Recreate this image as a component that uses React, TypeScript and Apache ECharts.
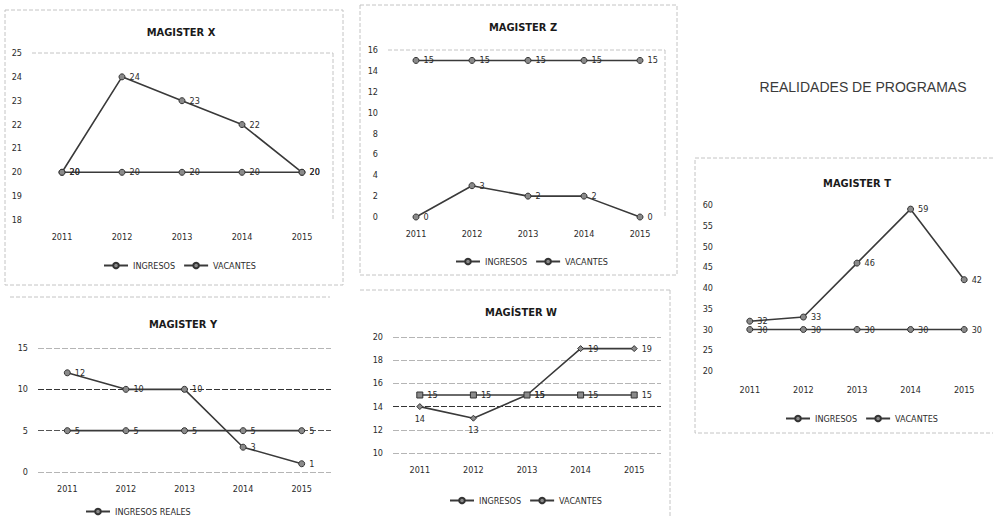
import React, { useEffect, useRef } from "react";
import * as echarts from "echarts";

const years = ["2011", "2012", "2013", "2014", "2015"];

const xIngresos = [20, 24, 23, 22, 20];
const xVacantes = [20, 20, 20, 20, 20];
const zIngresos = [0, 3, 2, 2, 0];
const zVacantes = [15, 15, 15, 15, 15];
const yIngresosReales = [12, 10, 10, 3, 1];
const yVacantes = [5, 5, 5, 5, 5];
const wIngresos = [14, 13, 15, 19, 19];
const wVacantes = [15, 15, 15, 15, 15];
const tIngresos = [32, 33, 46, 59, 42];
const tVacantes = [30, 30, 30, 30, 30];

const panelTitles = ["MAGISTER X", "MAGISTER Z", "MAGISTER Y", "MAGÍSTER W", "MAGISTER T"];
const pageTitle = "REALIDADES DE PROGRAMAS";

const NARROW = "'Liberation Sans Narrow', 'DejaVu Sans Condensed', 'Open Sans', sans-serif";
const INK = "#2b2b2b";
const FAINT = "#b5b5b5";

export default function App() {
  const ref = useRef<HTMLDivElement>(null);

  useEffect(() => {
    if (!ref.current) return;
    const chart = echarts.init(ref.current, null, { renderer: "svg" });

    const grids = [
      { left: 32, top: 53, width: 300, height: 167 },
      { left: 388, top: 50, width: 280, height: 167 },
      { left: 38, top: 348, width: 293, height: 124 },
      { left: 393, top: 337, width: 268, height: 116 },
      { left: 723, top: 205, width: 268, height: 166 },
    ];

    const axisLabel = { fontSize: 9, color: INK, fontFamily: NARROW };

    const xAxes = grids.map((_, i) => ({
      type: "category",
      gridIndex: i,
      data: years,
      boundaryGap: true,
      axisLine: { show: false },
      axisTick: { show: false },
      axisLabel: { ...axisLabel, margin: i === 4 ? 14 : 12 },
    }));

    const yRanges = [
      { min: 18, max: 25, interval: 1 },
      { min: 0, max: 16, interval: 2 },
      { min: 0, max: 15, interval: 5 },
      { min: 10, max: 20, interval: 2 },
      { min: 20, max: 60, interval: 5 },
    ];
    const splitColors: (string[] | null)[] = [
      null,
      null,
      [FAINT, "#555", "#333", FAINT],
      [FAINT, FAINT, "#333", FAINT, FAINT, FAINT],
      null,
    ];
    const yAxes = yRanges.map((r, i) => ({
      type: "value",
      gridIndex: i,
      ...r,
      axisLine: { show: false },
      axisTick: { show: false },
      axisLabel: { ...axisLabel, margin: 10 },
      splitLine: splitColors[i]
        ? { show: true, lineStyle: { color: splitColors[i], type: [6, 2], width: 1 } }
        : { show: false },
    }));

    const lbl = (pos: any = "right") => ({
      show: true,
      position: pos,
      distance: 4,
      fontSize: 9,
      color: INK,
      fontFamily: NARROW,
    });

    const mk = (
      name: string,
      idx: number,
      data: number[],
      symbol = "circle",
      labelPositions?: string[]
    ) => ({
      type: "line",
      name,
      xAxisIndex: idx,
      yAxisIndex: idx,
      data: labelPositions
        ? data.map((v, k) => ({ value: v, label: { position: labelPositions[k] } }))
        : data,
      symbol,
      symbolSize: 6,
      lineStyle: { color: "#3a3a3a", width: 1.6 },
      itemStyle: { color: "#8a8a8a", borderColor: "#333", borderWidth: 1 },
      label: lbl(),
    });

    const series = [
      mk("INGRESOS", 0, xIngresos),
      mk("VACANTES", 0, xVacantes),
      mk("INGRESOS", 1, zIngresos),
      mk("VACANTES", 1, zVacantes),
      mk("INGRESOS REALES", 2, yIngresosReales),
      mk("VACANTES", 2, yVacantes),
      mk("INGRESOS", 3, wIngresos, "diamond", ["bottom", "bottom", "right", "right", "right"]),
      mk("VACANTES", 3, wVacantes, "rect"),
      mk("INGRESOS", 4, tIngresos),
      mk("VACANTES", 4, tVacantes),
    ];

    const legendBase = {
      itemWidth: 24,
      itemHeight: 7,
      itemGap: 8,
      textStyle: { fontSize: 9, color: INK, fontFamily: NARROW },
    };

    const titlePos = [
      { left: 176, top: 22 },
      { left: 518, top: 17 },
      { left: 178, top: 314 },
      { left: 516, top: 302 },
      { left: 852, top: 173 },
    ];

    const dashed = { stroke: "#c4c4c4", lineWidth: 1, lineDash: [4, 2], fill: "none" };
    const line = (x1: number, y1: number, x2: number, y2: number) => ({
      type: "line",
      shape: { x1, y1, x2, y2 },
      style: dashed,
      silent: true,
    });

    const option: any = {
      animation: false,
      backgroundColor: "#ffffff",
      title: [
        ...panelTitles.map((t, i) => ({
          text: t,
          left: titlePos[i].left,
          top: titlePos[i].top,
          textAlign: "center",
          textStyle: { fontSize: 11, fontWeight: "bold", color: "#1a1a1a", fontFamily: NARROW },
        })),
        {
          text: pageTitle,
          left: 858,
          top: 75,
          textAlign: "center",
          textStyle: { fontSize: 14, fontWeight: "normal", color: "#3a3a3a", fontFamily: "'Liberation Sans', Arial, sans-serif" },
        },
      ],
      grid: grids,
      xAxis: xAxes,
      yAxis: yAxes,
      legend: [
        { ...legendBase, data: ["INGRESOS", "VACANTES"], left: 98, top: 256 },
        { ...legendBase, data: ["INGRESOS", "VACANTES"], left: 450, top: 252 },
        { ...legendBase, data: ["INGRESOS REALES"], left: 80, top: 502 },
        { ...legendBase, data: ["INGRESOS", "VACANTES"], left: 444, top: 491 },
        { ...legendBase, data: ["INGRESOS", "VACANTES"], left: 780, top: 409 },
      ],
      graphic: [
        { type: "rect", shape: { x: 5, y: 10, width: 338, height: 275 }, style: dashed, silent: true },
        line(32, 53, 333, 53),
        line(333, 53, 333, 220),
        { type: "rect", shape: { x: 360, y: 5, width: 317, height: 270 }, style: dashed, silent: true },
        line(388, 50, 665, 50),
        line(665, 50, 665, 217),
        line(10, 297, 330, 297),
        line(360, 290, 670, 290),
        line(670, 290, 670, 517),
        { type: "rect", shape: { x: 695, y: 158, width: 310, height: 275 }, style: dashed, silent: true },
      ],
      series,
    };

    chart.setOption(option);
    return () => chart.dispose();
  }, []);

  return (
    <div
      ref={ref}
      style={{ position: "fixed", left: 0, top: 0, width: 993, height: 517, background: "#fff" }}
    />
  );
}
